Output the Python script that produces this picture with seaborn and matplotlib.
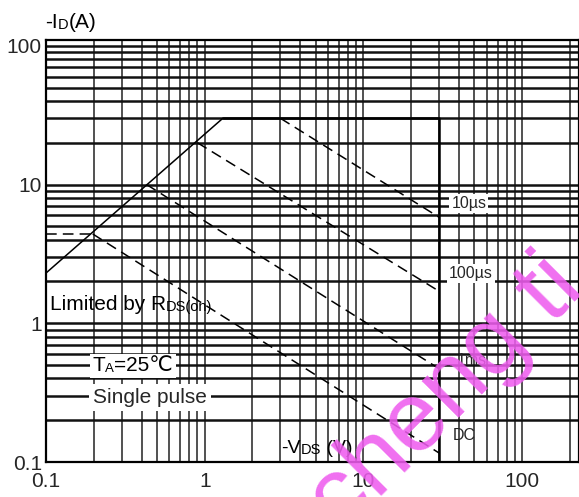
import numpy as np
import pandas as pd
import seaborn as sns
import matplotlib
matplotlib.use("Agg")
import matplotlib.pyplot as plt
from matplotlib.patches import Rectangle
from matplotlib.transforms import Bbox, IdentityTransform
from matplotlib.ticker import LogLocator, NullFormatter, FixedLocator, FixedFormatter

# safe operating area values
rds_v = [0.1, 1.3]
rds_i = [2.3, 30]

pulse_labels = ["10µs", "100µs", "1ms", "DC"]
start_v = [3.0, 0.9, 0.43, 0.197]
start_i = [30, 20, 10, 4.4]
end_v = [30, 30, 30, 30]
end_i = [5.8, 1.7, 0.47, 0.116]

# outer limits (current limit and voltage limit)
limit_v = [1.3, 30, 30]
limit_i = [30, 30, 0.1]

# short dashed lead-in at the DC start level
lead_v = [0.1, 0.197]
lead_i = [4.4, 4.4]

x_ticks = [0.1, 1, 10, 100]
x_ticklabels = ["0.1", "1", "10", "100"]
y_ticks = [0.1, 1, 10, 100]
y_ticklabels = ["0.1", "1", "10", "100"]

label_v = [35.8, 34.7, 38.8, 36.4]
label_i = [6.76, 2.12, 0.50, 0.143]

sns.set_style("white")
plt.rcParams["font.family"] = ["Liberation Sans", "DejaVu Sans"]


def rich_text(ax, x, y, pieces, transform):
    """pieces: list of (text, fontsize); drawn one after another on a shared baseline"""
    first, size = pieces[0]
    t = ax.text(x, y, first, fontsize=size, transform=transform,
                ha="left", va="baseline", color="black", zorder=6)
    out = [t]
    for s, size in pieces[1:]:
        t = ax.annotate(s, xy=(1, 0), xycoords=t, xytext=(0, 0),
                        textcoords="offset points", ha="left", va="bottom",
                        fontsize=size, color="black", zorder=6)
        out.append(t)
    return out


fig, ax = plt.subplots(figsize=(5.79, 4.97), dpi=100)
fig.subplots_adjust(left=0.0794, right=1.0, top=0.9195, bottom=0.0704)

ax.set_xscale("log")
ax.set_yscale("log")
ax.set_xlim(0.1, 228)
ax.set_ylim(0.1, 110)

# log grid, horizontal lines heavier than vertical ones
ax.xaxis.set_minor_locator(LogLocator(base=10, subs=np.arange(2, 10)))
ax.yaxis.set_minor_locator(LogLocator(base=10, subs=np.arange(2, 10)))
ax.xaxis.set_minor_formatter(NullFormatter())
ax.yaxis.set_minor_formatter(NullFormatter())
ax.xaxis.grid(True, which="both", color="#333333", lw=1.2)
ax.yaxis.grid(True, which="both", color="#111111", lw=1.8)

ax.xaxis.set_major_locator(FixedLocator(x_ticks))
ax.xaxis.set_major_formatter(FixedFormatter(x_ticklabels))
ax.yaxis.set_major_locator(FixedLocator(y_ticks))
ax.yaxis.set_major_formatter(FixedFormatter(y_ticklabels))
ax.tick_params(which="both", length=0)
ax.tick_params(axis="x", labelsize=15, pad=7)
ax.tick_params(axis="y", labelsize=15, pad=3)
for sp in ax.spines.values():
    sp.set_color("black")
    sp.set_linewidth(1.6)

# curves
sns.lineplot(x=rds_v, y=rds_i, ax=ax, color="black", lw=1.1, estimator=None, sort=False)
sns.lineplot(x=limit_v, y=limit_i, ax=ax, color="black", lw=1.8, estimator=None, sort=False)
sns.lineplot(x=lead_v, y=lead_i, ax=ax, color="black", lw=1.1, estimator=None, sort=False,
             linestyle=(0, (7, 4)))
for i in range(len(pulse_labels)):
    sns.lineplot(x=[start_v[i], end_v[i]], y=[start_i[i], end_i[i]], ax=ax,
                 color="black", lw=1.1, estimator=None, sort=False,
                 linestyle=(0, (7, 4)))

# curve labels
white = dict(fc="white", ec="none", pad=1.5)
for i, lab in enumerate(pulse_labels):
    box = white if i < 2 else None
    ax.text(label_v[i], label_i[i], lab, fontsize=11.5, ha="left", va="baseline",
            bbox=box, zorder=5)

rich_text(ax, 0.106, 1.25, [("Limited by R", 15), ("DS(on)", 10.5)], ax.transData)
ta_parts = rich_text(ax, 0.197, 0.45, [("T", 15), ("A", 9.5), ("=25℃", 15)], ax.transData)
ax.text(0.197, 0.266, "Single pulse", fontsize=15, ha="left", va="baseline",
        bbox=dict(fc="white", ec="none", pad=3), zorder=5)
rich_text(ax, 3.05, 0.116, [("-V", 14), ("DS", 10.5), (" (V)", 14)], ax.transData)

# y axis title
rich_text(ax, 0.078, 0.944, [("-I", 15), ("D", 10.5), ("(A)", 15)], fig.transFigure)

# white patch behind the temperature note
fig.canvas.draw()
r = fig.canvas.get_renderer()
bb = Bbox.union([t.get_window_extent(r) for t in ta_parts])
ax.add_patch(Rectangle((bb.x0 - 3, bb.y0 - 3), bb.width + 6, bb.height + 5,
                       transform=IdentityTransform(), fc="white", ec="none", zorder=5))

# watermark
fig.text(0.5907, -0.0765, "cheng ti", fontsize=71, color="#ee5cee", alpha=0.88,
         rotation=45, rotation_mode="anchor", ha="left", va="baseline", zorder=10)

fig.savefig("out.png", dpi=100)
